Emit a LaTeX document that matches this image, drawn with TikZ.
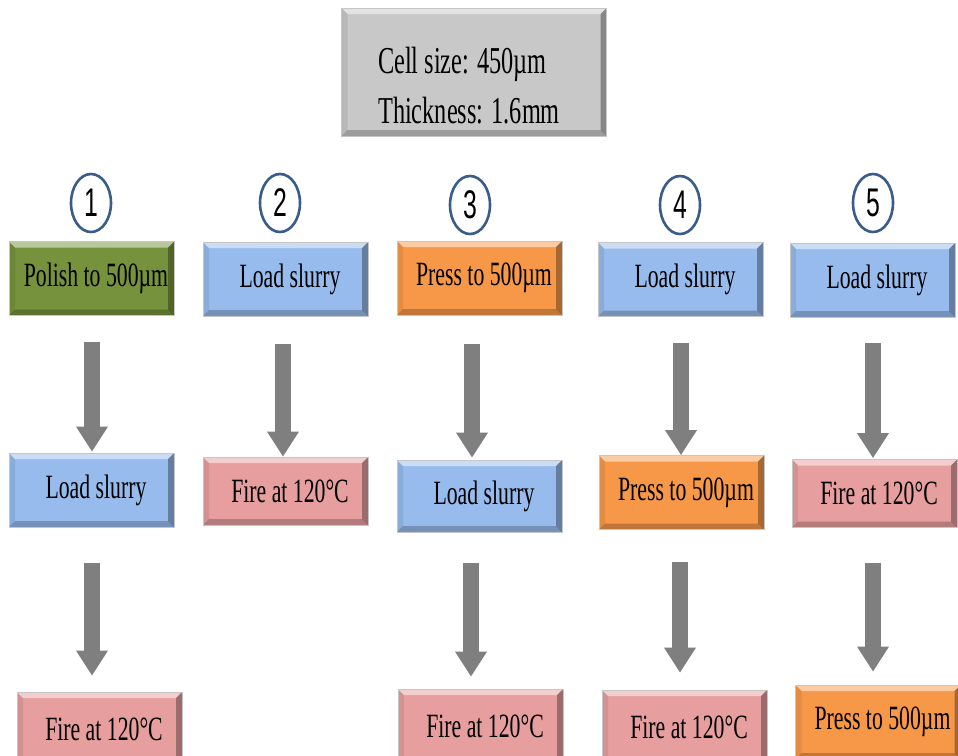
\documentclass[tikz,border=0pt]{standalone}
\usepackage{fontspec}
\setmainfont{Liberation Serif}[FakeStretch=0.64]
\newfontfamily\numfont{Liberation Sans}[FakeStretch=0.62]
\usetikzlibrary{calc,arrows.meta,shapes.geometric}
\definecolor{cgreen}{RGB}{118,146,60}
\definecolor{cblue}{RGB}{150,187,236}
\definecolor{corange}{RGB}{247,152,72}
\definecolor{cpink}{RGB}{230,158,158}
\definecolor{cgray}{RGB}{200,200,200}
\definecolor{carrow}{RGB}{127,127,127}
\definecolor{cring}{RGB}{58,92,138}
\begin{document}
\begin{tikzpicture}[x=1pt,y=-1pt,
  bevel/.style={path picture={
    \path (path picture bounding box.north west) coordinate (pnw)
          (path picture bounding box.north east) coordinate (pne)
          (path picture bounding box.south west) coordinate (psw)
          (path picture bounding box.south east) coordinate (pse);
    \fill[white,opacity=.5] (pnw) -- (pne) -- ([xshift=-6pt,yshift=-6pt]pne) -- ([xshift=6pt,yshift=-6pt]pnw) -- cycle;
    \fill[black,opacity=.08] (pnw) -- ([xshift=6pt,yshift=-6pt]pnw) -- ([xshift=6pt,yshift=6pt]psw) -- (psw) -- cycle;
    \fill[black,opacity=.32] (pne) -- (pse) -- ([xshift=-6pt,yshift=6pt]pse) -- ([xshift=-6pt,yshift=-6pt]pne) -- cycle;
    \fill[black,opacity=.22] (psw) -- (pse) -- ([xshift=-6pt,yshift=6pt]pse) -- ([xshift=6pt,yshift=6pt]psw) -- cycle;
  }},
  box/.style={rectangle, minimum width=165pt, minimum height=74pt, inner sep=0pt,
    draw=gray!45, line width=0.6pt, bevel, font=\fontsize{34}{40}\selectfont,
    execute at begin node={\hspace*{9pt}}},
  topbox/.style={rectangle, minimum width=265pt, minimum height=128pt, inner sep=0pt,
    draw=gray!45, line width=0.6pt, bevel, fill=cgray, align=left,
    font=\fontsize{38}{50}\selectfont},
  numring/.style={ellipse, draw=cring, line width=2.6pt, minimum width=40pt,
    minimum height=58pt, inner sep=0pt, font=\numfont\fontsize{40}{40}\selectfont},
  bigarrow/.style={draw=carrow, line width=16pt, -{Triangle[width=30pt,length=25pt]}}
]
\useasboundingbox (0,0) rectangle (958,755);
\clip (0,0) rectangle (958,755);
\fill[white] (0,0) rectangle (958,755);

% top box
\node[topbox] (top) at (474,72) {\rule{0pt}{54pt}\hspace*{-10pt}Cell size: 450µm\\\hspace*{-10pt}Thickness: 1.6mm};

% number rings
\node[numring] (c1) at (91,203) {1};
\node[numring] (c2) at (280,203) {2};
\node[numring] (c3) at (470,205) {3};
\node[numring] (c4) at (680,205) {4};
\node[numring] (c5) at (873,203) {5};

% row 1
\node[box, fill=cgreen]  (b11) at (91.5,278.5) {Polish to 500µm};
\node[box, fill=cblue]   (b21) at (285.5,279)  {Load slurry};
\node[box, fill=corange] (b31) at (479.5,278)  {Press to 500µm};
\node[box, fill=cblue]   (b41) at (680.5,279.5) {Load slurry};
\node[box, fill=cblue]   (b51) at (872.5,280)  {Load slurry};

% row 2
\node[box, fill=cblue]   (b12) at (91.5,490)  {Load slurry};
\node[box, fill=cpink, minimum height=68pt] (b22) at (285.5,491) {Fire at 120°C};
\node[box, fill=cblue, minimum height=72pt] (b32) at (479.5,496) {Load slurry};
\node[box, fill=corange] (b42) at (681.5,492.5) {Press to 500µm};
\node[box, fill=cpink, minimum height=68pt] (b52) at (874.5,493.5) {Fire at 120°C};

% row 3
\node[box, fill=cpink]   (b13) at (99.5,729)  {Fire at 120°C};
\node[box, fill=cpink]   (b33) at (480.5,726) {Fire at 120°C};
\node[box, fill=cpink]   (b43) at (684.5,727) {Fire at 120°C};
\node[box, fill=corange] (b53) at (878,722)   {Press to 500µm};

% arrows
\draw[bigarrow] ($(b11.south)+(0.5,26)$) -- ($(b12.north)+(0.5,-1)$);
\draw[bigarrow] ($(b21.south)+(-2.5,28)$) -- ($(b22.north)+(-2.5,0)$);
\draw[bigarrow] ($(b31.south)+(-7.5,29)$) -- ($(b32.north)+(-7.5,-2)$);
\draw[bigarrow] ($(b41.south)+(0.5,26)$) -- ($(b42.north)+(-0.5,0)$);
\draw[bigarrow] ($(b51.south)+(0.5,26)$) -- ($(b52.north)+(-1.5,-1)$);

\draw[bigarrow] ($(b12.south)+(0.5,36)$) -- ($(b13.north)+(-7.5,-16)$);
\draw[bigarrow] ($(b32.south)+(-8.5,31)$) -- ($(b33.north)+(-9.5,-12)$);
\draw[bigarrow] ($(b42.south)+(-1.5,32)$) -- ($(b43.north)+(-4.5,-17)$);
\draw[bigarrow] ($(b52.south)+(-1.5,35)$) -- ($(b53.north)+(-5,-13)$);
\end{tikzpicture}
\end{document}
